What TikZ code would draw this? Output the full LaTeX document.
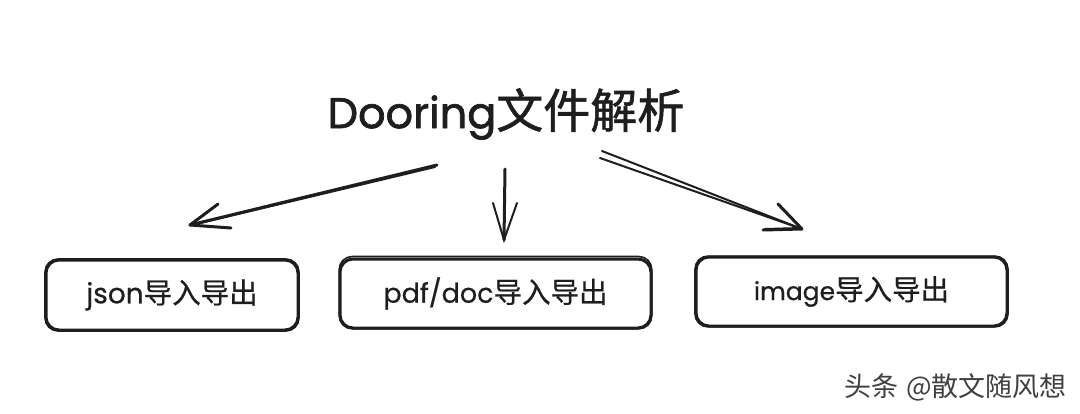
\documentclass[tikz,border=0pt]{standalone}
\usepackage{fontspec}
\setmainfont{Poppins}[FakeBold=0.6]
\newfontfamily\cjk{Noto Sans CJK SC}[FakeBold=0.6]
\newfontfamily\titlelatin{Poppins}[FakeBold=1.6]
\newfontfamily\titlecjk{Noto Sans CJK SC}[FakeBold=1.2]
\newfontfamily\markfont{Noto Sans CJK SC}
\definecolor{ink}{HTML}{1E1E1E}
\tikzset{
  x=1pt,y=-1pt,
  sketchbox/.style={draw=ink,line width=3pt,rounded corners=13pt,inner sep=0pt,text=ink,align=center},
  sketchpass/.style={draw=ink,line width=1.6pt,rounded corners=13pt},
  sketchline/.style={draw=ink,line width=3pt,line cap=round,line join=round},
  fineline/.style={draw=ink,line width=2pt,line cap=round},
}
\newcommand{\boxlabel}[2][27]{{\fontsize{#1}{30}\selectfont #2\cjk\fontsize{28.5}{30}\selectfont 导入导出}}
\begin{document}
\begin{tikzpicture}
\useasboundingbox (0,0) rectangle (1080,413);
\fill[white] (0,0) rectangle (1080,413);
% title
\node[text=ink,inner sep=0pt] (title) at (506,114) {\titlelatin\fontsize{43}{50}\selectfont Dooring\titlecjk\fontsize{47}{50}\selectfont 文件解析};
% boxes
\node[sketchbox,minimum width=252pt,minimum height=70pt] (json) at (172,295) {\boxlabel[28]{json}};
\node[sketchbox,minimum width=311pt,minimum height=69pt] (pdf) at (495.5,293.5) {\boxlabel{pdf/doc}};
\node[sketchbox,minimum width=311pt,minimum height=69pt] (img) at (851.5,291.5) {\boxlabel[25]{image}};
% second sketch strokes
\draw[sketchpass] ([shift={(.5,-.5)}]json.south west) rectangle ([shift={(-.5,.5)}]json.north east);
\draw[sketchpass] ([shift={(.7,-.7)}]pdf.south west) rectangle ([shift={(-.7,-1)}]pdf.north east);
\draw[sketchpass] ([shift={(.5,-.6)}]img.south west) rectangle ([shift={(-.5,.6)}]img.north east);
% connector ends
\coordinate (a1s) at (437,165);
\coordinate (a1t) at (190,225);
\coordinate (a1u) at (218,204);
\coordinate (a1l) at (231,228);
\coordinate (a2s) at (505,169);
\coordinate (a2t) at (504,240);
\coordinate (a2u) at (493,203);
\coordinate (a2l) at (517,203);
\coordinate (a3a) at (602,151);
\coordinate (a3b) at (600,158);
\coordinate (a3t) at (802,229);
\coordinate (a3u) at (778,204);
\coordinate (a3l) at (763,230);
% left arrow
\draw[sketchline] (a1s) -- (a1t);
\draw[fineline] ([shift={(-2,2)}]a1s) -- ([shift={(2,0)}]a1t);
\draw[sketchline] (a1u) -- (a1t) -- (a1l);
% middle arrow
\draw[sketchline] (a2s) -- (a2t);
\draw[fineline] (a2u) -- (a2t) -- (a2l);
% right arrow (double stroke)
\draw[fineline] (a3a) -- (a3t);
\draw[fineline] (a3b) -- (a3t);
\draw[sketchline] (a3u) -- (a3t) -- (a3l);
\draw[fineline] ([shift={(2,-1)}]a3l) -- ([shift={(-1,-1)}]a3t);
% watermark
\node[anchor=east,inner sep=0pt,text=ink!85] (mark) at (1067,387) {\markfont\fontsize{27}{30}\selectfont 头条\hspace{8pt}@散文随风想};
\end{tikzpicture}
\end{document}
